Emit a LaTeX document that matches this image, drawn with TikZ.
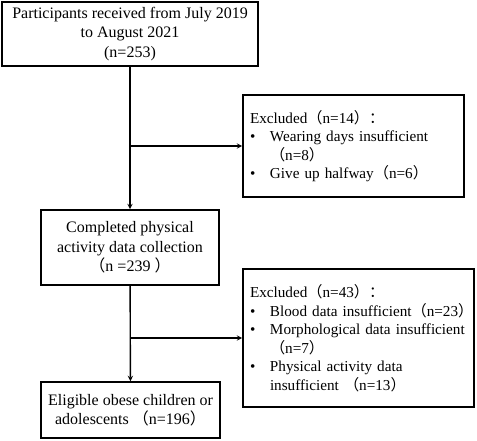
\documentclass[tikz,border=0pt]{standalone}
\usepackage{fontspec}
\setmainfont{Liberation Serif}
\newfontfamily\cjk{Noto Sans CJK SC}
\usetikzlibrary{arrows,positioning}
\newcommand{\lp}{{\cjk （}}
\newcommand{\rp}{{\cjk ）}}
\newcommand{\cn}{{\cjk ：}}
\newcommand{\bul}{\makebox[20pt][l]{\textbullet}}

\begin{document}
\begin{tikzpicture}[
    x=1pt, y=-1pt,
    block/.style={draw, line width=1.6pt, align=center, inner sep=0pt, font=\fontsize{16}{19.5}\selectfont},
    side/.style={draw, line width=1.6pt, align=left, inner ysep=0pt, inner xsep=7pt, font=\fontsize{15.2}{18.5}\selectfont},
    arrow/.style={line width=1.4pt,->,>=stealth}
]
    \useasboundingbox (0,0) rectangle (477,441);
    \node (a) [block, minimum width=256pt, minimum height=64pt] at (130,34)
        {Participants received from July 2019\\to August 2021\\(n=253)};
    \node (b) [block, minimum width=178pt, minimum height=75pt] at (130,247.5)
        {Completed physical\\activity data collection\\\lp n =239 \rp};
    \node (c) [block, minimum width=179pt, minimum height=56pt] at (130.5,410)
        {Eligible obese children or\\adolescents \lp n=196\rp};
    \node (e1) [side, minimum height=102pt, text width=207pt] at (353.5,146)
        {\mbox{Excluded\lp n=14\rp\cn}\\
         \mbox{\bul Wearing days insufficient}\\
         \mbox{\hspace*{20pt}\lp n=8\rp}\\
         \mbox{\bul Give up halfway\lp n=6\rp}};
    \node (e2) [side, minimum height=138pt, text width=217pt] at (358.5,338)
        {\mbox{Excluded\lp n=43\rp\cn}\\
         \mbox{\bul Blood data insufficient\lp n=23\rp}\\
         \mbox{\bul Morphological data insufficient}\\
         \mbox{\hspace*{20pt}\lp n=7\rp}\\
         \mbox{\bul Physical activity data}\\
         \mbox{\hspace*{20pt}insufficient \lp n=13\rp}};

    \coordinate (j1) at (a.south |- e1.west);
    \coordinate (j2) at (b.south |- e2.west);

    \draw [arrow] (a) -- (b);
    \draw [arrow] (b) -- (c);
    \draw [arrow] (j1) -- (e1);
    \draw [arrow] (j2) -- (e2);
\end{tikzpicture}
\end{document}
